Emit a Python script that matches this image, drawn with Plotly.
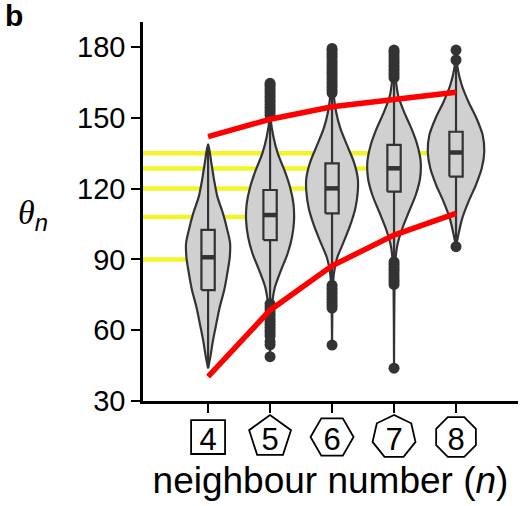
import math
import plotly.graph_objects as go

# neighbour numbers and the interior angle of the regular n-gon
neighbours = [4, 5, 6, 7, 8]
regular_angle = [90, 108, 120, 128.57, 135]

# geometric bounds on the angle for each neighbour number
upper_bound = [142.0, 149.4, 154.7, 157.8, 160.8]
lower_bound = [40.3, 68.5, 87.3, 100.3, 109.5]

# violin outlines: angle (deg) and half-width (x units) along each violin
v4_theta = [138.9, 130.7, 123.6, 116.6, 109.5, 102.5, 96.8, 91.1, 84.1, 77.0, 70.0, 62.9, 55.8, 48.8, 43.9]
v4_half = [0, .054, .097, .15, .24, .31, .355, .35, .31, .26, .19, .134, .08, .037, 0]
v5_theta = [164.6, 149.4, 142.0, 134.9, 127.9, 120.8, 113.8, 106.7, 99.6, 92.6, 85.5, 78.4, 71.4, 65.7, 48.8]
v5_half = [0, .01, .054, .124, .23, .32, .376, .387, .355, .285, .177, .08, .032, .012, 0]
v6_theta = [179.4, 159.7, 152.6, 145.5, 138.5, 131.4, 124.4, 118.7, 111.7, 104.6, 97.5, 90.5, 83.4, 72.0, 53.7]
v6_half = [0, .027, .065, .134, .24, .35, .415, .415, .376, .295, .189, .08, .027, .008, 0]
v7_theta = [178.7, 166.7, 159.7, 152.6, 145.5, 138.5, 131.4, 124.4, 117.3, 110.2, 103.2, 96.1, 89.0, 80.0, 43.9]
v7_half = [0, .027, .065, .16, .28, .376, .43, .42, .35, .24, .134, .054, .02, .008, 0]
v8_theta = [178.7, 170.9, 163.9, 156.8, 149.8, 142.7, 135.6, 128.6, 121.5, 114.4, 107.4, 100.3, 95.4]
v8_half = [0, .027, .092, .2, .33, .43, .456, .415, .32, .2, .1, .037, 0]

# box-plot summaries
box_q1 = [77.0, 98.2, 109.5, 118.7, 125.1]
box_median = [90.9, 108.8, 120.1, 128.6, 135.3]
box_q3 = [102.5, 119.4, 130.7, 138.5, 144.1]
box_low = [43.9, 72.0, 80.0, 90.0, 97.0]
box_high = [138.9, 150.0, 159.5, 166.5, 172.0]

# outlying angles
out5 = [151.0, 152.2, 153.3, 154.5, 155.6, 156.8, 158.0, 159.1, 160.3, 161.5, 162.6, 163.8, 164.6,
        71.2, 70.0, 68.8, 67.5, 66.3, 65.0, 63.8, 62.5, 61.3, 60.0, 58.8, 57.5, 55.2, 53.8, 48.8]
out6 = [160.5, 161.7, 162.9, 164.1, 165.3, 166.5, 167.7, 168.9, 170.1, 171.3, 172.5, 173.7, 174.9,
        176.1, 177.3, 178.5, 179.4, 79.0, 77.8, 76.6, 75.4, 74.2, 73.0, 71.8, 70.6, 69.4, 53.7]
out7 = [167.0, 168.2, 169.4, 170.6, 171.8, 173.0, 174.2, 175.4, 176.6, 177.8, 178.7,
        89.0, 87.8, 86.6, 85.4, 84.2, 83.0, 81.8, 80.6, 79.4, 43.9]
out8 = [178.7, 174.5, 95.4]

y_ticks = [30, 60, 90, 120, 150, 180]

DARK = "#333333"
FILL = "#d0d0d0"
BOX_W = 0.215
X_MIN, X_MAX = 2.95, 9.0

fig = go.Figure()


def add_line(xs, ys, color, width):
    fig.add_trace(go.Scatter(x=xs, y=ys, mode="lines", line=dict(color=color, width=width),
                             hoverinfo="skip", showlegend=False))


# horizontal guides at the regular-polygon angles (behind the violins)
for n, a in zip(neighbours, regular_angle):
    add_line([X_MIN, n], [a, a], "#f4f42a", 4.5)

# violins
violins = [(4, v4_theta, v4_half), (5, v5_theta, v5_half), (6, v6_theta, v6_half),
           (7, v7_theta, v7_half), (8, v8_theta, v8_half)]
for n, th, hw in violins:
    xs = [n + w for w in hw] + [n - w for w in reversed(hw)]
    ys = list(th) + list(reversed(th))
    fig.add_trace(go.Scatter(x=xs, y=ys, mode="lines", fill="toself",
                             fillcolor=FILL,
                             line=dict(color=DARK, width=2.2, shape="spline", smoothing=0.8),
                             hoverinfo="skip", showlegend=False))

# boxes with whiskers
for n, lo, q1, med, q3, hi in zip(neighbours, box_low, box_q1, box_median, box_q3, box_high):
    add_line([n, n], [lo, q1], DARK, 2.2)
    add_line([n, n], [q3, hi], DARK, 2.2)
    left, right = n - BOX_W / 2, n + BOX_W / 2
    fig.add_trace(go.Scatter(x=[left, right, right, left, left], y=[q1, q1, q3, q3, q1],
                             mode="lines", fill="toself", fillcolor=FILL,
                             line=dict(color=DARK, width=2.2),
                             hoverinfo="skip", showlegend=False))
    add_line([left, right], [med, med], DARK, 4.5)

# outliers
for n, pts in zip([5, 6, 7, 8], [out5, out6, out7, out8]):
    fig.add_trace(go.Scatter(x=[n] * len(pts), y=pts, mode="markers",
                             marker=dict(color=DARK, size=11),
                             hoverinfo="skip", showlegend=False))

# bound curves
for b in (upper_bound, lower_bound):
    add_line(neighbours, b, "#ff0000", 5.5)


# polygon badges around the x tick labels
def polygon_path(sides, radius, start_deg):
    pts = []
    for k in range(sides):
        ang = math.radians(start_deg + k * 360.0 / sides)
        pts.append((radius * math.cos(ang), radius * math.sin(ang)))
    return "M " + " L ".join(f"{px:.2f},{py:.2f}" for px, py in pts) + " Z"


badge_spec = {4: (4, 24.0, 45), 5: (5, 22.0, 90), 6: (6, 21.5, 0), 7: (7, 22.0, 90), 8: (8, 21.5, 22.5)}
for n in neighbours:
    sides, r, start = badge_spec[n]
    fig.add_shape(type="path", path=polygon_path(sides, r, start),
                  xref="x", yref="paper", xsizemode="pixel", ysizemode="pixel",
                  xanchor=n, yanchor=-0.095,
                  line=dict(color="black", width=1.8), fillcolor="rgba(0,0,0,0)")

fig.add_annotation(text="<i>θ</i><sub><span style='font-family:Liberation Sans'><i>n</i></span></sub>",
                   xref="paper", yref="paper", xanchor="center", yanchor="middle",
                   x=-0.293, y=0.49, showarrow=False,
                   font=dict(family="Liberation Serif", size=34, color="black"))
fig.add_annotation(text="<b>b</b>", xref="paper", yref="paper", xanchor="center", yanchor="middle",
                   x=-0.344, y=1.016, showarrow=False,
                   font=dict(family="Liberation Sans", size=30, color="black"))

fig.update_layout(
    width=520, height=506,
    margin=dict(l=143, r=2, t=22, b=105),
    paper_bgcolor="white", plot_bgcolor="white",
    font=dict(family="Liberation Sans", color="black"),
    showlegend=False,
    xaxis=dict(range=[X_MIN, X_MAX], showgrid=False, zeroline=False,
               showline=True, linecolor="black", linewidth=2.5,
               ticks="outside", ticklen=9, tickwidth=2, tickcolor="black",
               tickvals=neighbours, ticktext=[str(n) for n in neighbours],
               tickfont=dict(size=31),
               title=dict(text="neighbour number (<i>n</i>)", font=dict(size=37), standoff=12)),
    yaxis=dict(range=[30, 190.6], showgrid=False, zeroline=False,
               showline=True, linecolor="black", linewidth=2.5,
               ticks="outside", ticklen=9, tickwidth=2, tickcolor="black",
               tickvals=y_ticks, tickfont=dict(size=29)),
)

fig.write_html("out.html")
